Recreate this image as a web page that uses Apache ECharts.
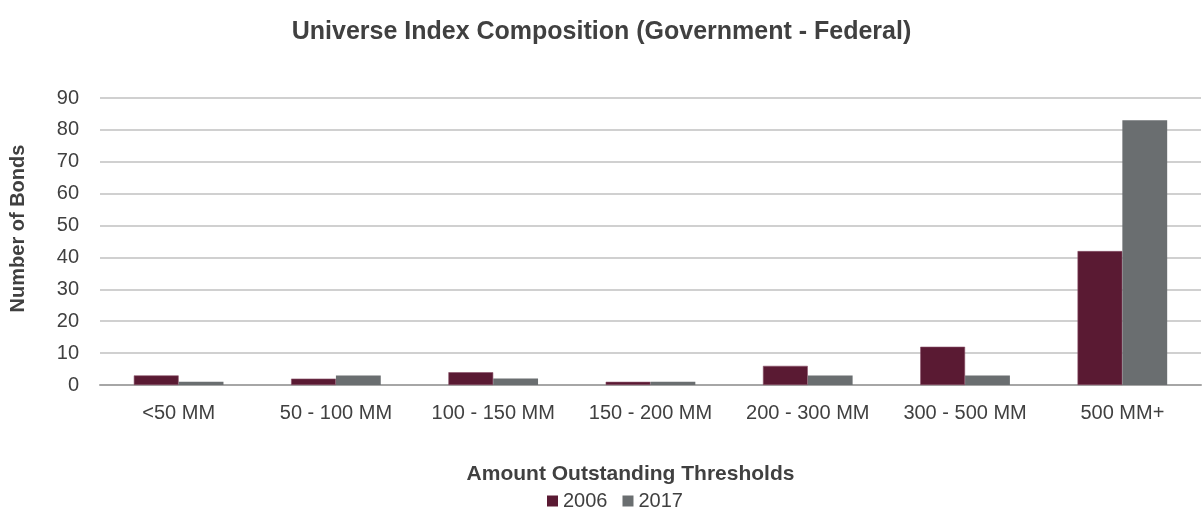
<!DOCTYPE html>
<html>
<head>
<meta charset="utf-8">
<script src="https://cdn.jsdelivr.net/npm/echarts@6/dist/echarts.min.js"></script>
<style>
  html, body { margin: 0; padding: 0; background: #ffffff; }
  #chart { width: 1203px; height: 517px; }
</style>
</head>
<body>
<div id="chart"></div>
<script>
// Bond counts per amount-outstanding bucket
const categories = ['<50 MM', '50 - 100 MM', '100 - 150 MM', '150 - 200 MM', '200 - 300 MM', '300 - 500 MM', '500 MM+'];
const values2006 = [3, 2, 4, 1, 6, 12, 42];
const values2017 = [1, 3, 2, 1, 3, 3, 83];
const seriesNames = ['2006', '2017'];

const FONT = 'Liberation Sans, Arial, sans-serif';
const TEXT = '#404040';

const chart = echarts.init(document.getElementById('chart'), null, { renderer: 'canvas' });
chart.setOption({
  animation: false,
  backgroundColor: '#ffffff',
  title: {
    text: 'Universe Index Composition (Government - Federal)',
    left: 'center',
    top: 15,
    textStyle: { fontFamily: FONT, fontSize: 25, fontWeight: 'bold', color: TEXT }
  },
  legend: {
    data: seriesNames,
    bottom: 1,
    left: 542,
    itemWidth: 11,
    itemHeight: 11,
    itemGap: 15,
    icon: 'rect',
    itemStyle: { borderWidth: 0 },
    textStyle: { fontFamily: FONT, fontSize: 20, color: TEXT }
  },
  grid: { left: 100, right: 2, top: 98, bottom: 132, containLabel: false },
  xAxis: {
    type: 'category',
    data: categories,
    name: 'Amount Outstanding Thresholds',
    nameLocation: 'middle',
    nameGap: 79,
    nameTextStyle: { fontFamily: FONT, fontSize: 21, fontWeight: 'bold', color: TEXT, padding: [0, 40, 0, 0] },
    axisLine: { lineStyle: { color: '#a6a6a6', width: 2 } },
    axisTick: { show: false },
    axisLabel: { fontFamily: FONT, fontSize: 20, color: TEXT, margin: 18, interval: 0 }
  },
  yAxis: {
    type: 'value',
    min: 0,
    max: 90,
    interval: 10,
    name: 'Number of Bonds',
    nameLocation: 'middle',
    nameGap: 72,
    nameTextStyle: { fontFamily: FONT, fontSize: 20, fontWeight: 'bold', color: TEXT, padding: [0, 0, 0, 26] },
    axisLine: { show: false },
    axisTick: { show: false },
    axisLabel: { fontFamily: FONT, fontSize: 20, color: TEXT, margin: 21 },
    splitLine: { lineStyle: { color: '#d0d0d0', width: 2 } }
  },
  series: [
    {
      name: seriesNames[0],
      type: 'bar',
      data: values2006,
      barGap: '0%',
      barCategoryGap: '43%',
      itemStyle: { color: '#5a1a33', borderColor: '#8a5068', borderWidth: 0.6 }
    },
    {
      name: seriesNames[1],
      type: 'bar',
      data: values2017,
      itemStyle: { color: '#6a6e70' }
    }
  ]
});
</script>
</body>
</html>
